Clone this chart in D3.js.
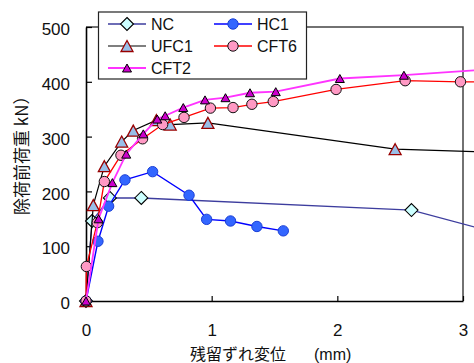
<!DOCTYPE html>
<html><head><meta charset="utf-8">
<script src="https://cdn.jsdelivr.net/npm/d3@7"></script>
<style>body{margin:0;background:#fff}svg{display:block}</style>
</head><body>
<svg id="c" width="474" height="363"></svg>
<script>
// ---- data ----
const xTicks = [0, 1, 2, 3];
const yTicks = [0, 100, 200, 300, 400, 500];
const seriesNames = ["NC", "HC1", "UFC1", "CFT6", "CFT2"];

const ncX = [0, 0.048, 0.19, 0.44, 2.59, 3.3];
const ncY = [0, 146, 188, 188, 166, 122];

const hc1X = [0, 0.095, 0.18, 0.31, 0.53, 0.82, 0.96, 1.15, 1.36, 1.57];
const hc1Y = [0, 109, 173, 221, 236, 193, 149, 146, 136, 128];

const ufc1X = [0, 0.058, 0.146, 0.284, 0.376, 0.56, 0.67, 0.97, 2.46, 3.3];
const ufc1Y = [0, 175, 246, 291, 311, 330, 322, 325, 277, 271];

const cft6X = [0, 0.003, 0.09, 0.146, 0.278, 0.45, 0.61, 0.78, 0.99, 1.17, 1.32, 1.49, 1.99, 2.54, 2.98, 3.4];
const cft6Y = [0, 63, 143, 218, 266, 296, 322, 335, 352, 353, 359, 364, 386, 402, 400, 399];

const cft2X = [0, 0.10, 0.21, 0.32, 0.456, 0.567, 0.63, 0.774, 0.947, 1.11, 1.305, 1.51, 2.02, 2.53, 3.3];
const cft2Y = [0, 150, 216, 268, 305, 332, 338, 353, 367, 371, 380, 382, 406, 412, 424];

// ---- styles ----
const styles = {
  NC:   {line: "#3d3d9e", lw: 1.3, m: "diamond", r: 6.5, fill: "#ccffff", stroke: "#000", sw: 1.1},
  HC1:  {line: "#0000ff", lw: 1.4, m: "circle", r: 5.2, fill: "#3366ff", stroke: "#1a3fd6", sw: 1},
  UFC1: {line: "#000000", lw: 1.2, m: "triangle", w: 12, h: 11, fill: "#99bfe8", stroke: "#990000", sw: 1.3},
  CFT6: {line: "#ff0000", lw: 1.3, m: "circle", r: 5.2, fill: "#ff99c4", stroke: "#111", sw: 1},
  CFT2: {line: "#ff33ff", lw: 1.8, m: "triangle", w: 9, h: 8, fill: "#cc00cc", stroke: "#000", sw: 1}
};
const dataX = {NC: ncX, HC1: hc1X, UFC1: ufc1X, CFT6: cft6X, CFT2: cft2X};
const dataY = {NC: ncY, HC1: hc1Y, UFC1: ufc1Y, CFT6: cft6Y, CFT2: cft2Y};

const svg = d3.select("#c");
const x = d3.scaleLinear().domain([0, 3]).range([86, 463]);
const y = d3.scaleLinear().domain([0, 500]).range([301, 27]);

const latin = "'Liberation Sans', Arial, sans-serif";
const cjk = "'Noto Sans CJK JP', sans-serif";

// plot frame (top, right)
svg.append("path")
  .attr("d", `M${x(0)},${y(500)}H${x(3)}V${y(0)}`)
  .attr("fill", "none").attr("stroke", "#444").attr("stroke-width", 1.5);

// axes
const gy = svg.append("g").attr("transform", `translate(${x(0)},0)`)
  .call(d3.axisLeft(y).tickValues(yTicks).tickSizeInner(-6).tickSizeOuter(0).tickPadding(16));
const gx = svg.append("g").attr("transform", `translate(0,${y(0)})`)
  .call(d3.axisBottom(x).tickValues(xTicks).tickSizeInner(-5).tickSizeOuter(0).tickPadding(23).tickFormat(d3.format("d")));
[gy, gx].forEach(g => {
  g.select(".domain").attr("stroke", "#000").attr("stroke-width", 1.6);
  g.selectAll(".tick line").attr("stroke", "#000").attr("stroke-width", 1.2);
  g.selectAll(".tick text").attr("font-family", latin).attr("font-size", 17).attr("fill", "#111");
});
gy.selectAll(".tick text").attr("dy", "0.45em");

// markers
function markerPath(s) {
  if (s.m === "diamond") return `M0,${-s.r}L${s.r},0L0,${s.r}L${-s.r},0Z`;
  if (s.m === "triangle") return `M0,${-s.h/2}L${s.w/2},${s.h/2}L${-s.w/2},${s.h/2}Z`;
  return d3.symbol(d3.symbolCircle, Math.PI * s.r * s.r)();
}

const line = d3.line().x(d => x(d[0])).y(d => y(d[1]));
seriesNames.forEach(name => {
  const s = styles[name];
  const pts = dataX[name].map((v, i) => [v, dataY[name][i]]);
  const g = svg.append("g");
  g.append("path").attr("d", line(pts)).attr("fill", "none")
    .attr("stroke", s.line).attr("stroke-width", s.lw);
  g.selectAll("path.m").data(pts).join("path").attr("class", "m")
    .attr("transform", d => `translate(${x(d[0])},${y(d[1])})`)
    .attr("d", markerPath(s)).attr("fill", s.fill)
    .attr("stroke", s.stroke).attr("stroke-width", s.sw);
});

// legend
const lg = svg.append("g");
lg.append("rect").attr("x", 98.5).attr("y", 12).attr("width", 208).attr("height", 67)
  .attr("fill", "#fff").attr("stroke", "#222").attr("stroke-width", 1.2);
const legPos = {
  NC: [108, 24], HC1: [214, 24], UFC1: [108, 46], CFT6: [214, 46], CFT2: [108, 68]
};
seriesNames.forEach(name => {
  const s = styles[name];
  const [lx, ly] = legPos[name];
  lg.append("line").attr("x1", lx).attr("x2", lx + 38).attr("y1", ly).attr("y2", ly)
    .attr("stroke", s.line).attr("stroke-width", s.lw);
  lg.append("path").attr("transform", `translate(${lx + 19},${ly})`).attr("d", markerPath(s))
    .attr("fill", s.fill).attr("stroke", s.stroke).attr("stroke-width", s.sw);
  lg.append("text").attr("x", lx + 43).attr("y", ly + 6)
    .attr("font-family", latin).attr("font-size", 16).attr("fill", "#111").text(name);
});

// axis titles
const xt = svg.append("text").attr("x", 190).attr("y", 359.5)
  .attr("font-family", cjk).attr("font-size", 16).attr("fill", "#111");
xt.append("tspan").text("残留ずれ変位");
xt.append("tspan").attr("dx", 28).attr("font-family", latin).text("(mm)");

svg.append("text").attr("transform", "translate(28,215) rotate(-90)")
  .attr("font-family", cjk).attr("font-size", 17).attr("fill", "#111")
  .text("除荷前荷重 kN）");
</script>
</body></html>
